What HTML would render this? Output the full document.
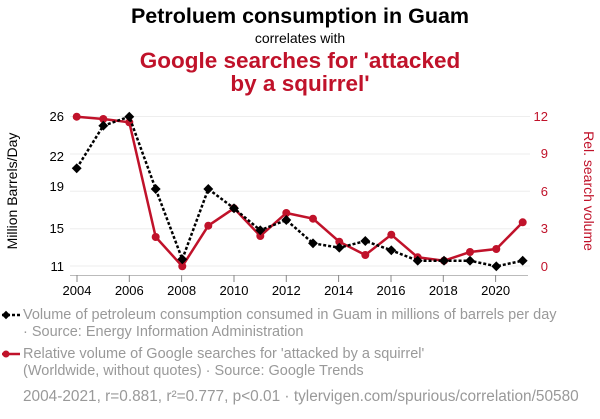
<!DOCTYPE html>
<html><head><style>
body{margin:0;background:#fff;font-family:"Liberation Sans",sans-serif;}
svg text{font-family:"Liberation Sans",sans-serif;}
</style></head><body>
<svg width="600" height="414" xmlns="http://www.w3.org/2000/svg">
<text x="300" y="23" text-anchor="middle" font-size="21.5" font-weight="bold" fill="#000">Petroluem consumption in Guam</text>
<text x="300" y="43" text-anchor="middle" font-size="14" fill="#000">correlates with</text>
<text x="300" y="68" text-anchor="middle" font-size="22.5" font-weight="bold" fill="#c0122a">Google searches for 'attacked</text>
<text x="300" y="91" text-anchor="middle" font-size="22.5" font-weight="bold" fill="#c0122a">by a squirrel'</text>
<g stroke="#eeeeee" stroke-width="1">
<line x1="70" x2="530" y1="116.5" y2="116.5"/><line x1="70" x2="530" y1="154" y2="154"/>
<line x1="70" x2="530" y1="191.3" y2="191.3"/><line x1="70" x2="530" y1="228.7" y2="228.7"/>
<line x1="70" x2="530" y1="266" y2="266"/></g>
<line x1="70" x2="528" y1="275.5" y2="275.5" stroke="#bbb"/>
<g stroke="#888"><line x1="77" x2="77" y1="275" y2="282"/><line x1="129.3" x2="129.3" y1="275" y2="282"/><line x1="181.6" x2="181.6" y1="275" y2="282"/><line x1="234" x2="234" y1="275" y2="282"/><line x1="286.3" x2="286.3" y1="275" y2="282"/><line x1="338.6" x2="338.6" y1="275" y2="282"/><line x1="391" x2="391" y1="275" y2="282"/><line x1="443.3" x2="443.3" y1="275" y2="282"/><line x1="495.6" x2="495.6" y1="275" y2="282"/></g>
<g font-size="13" fill="#000" text-anchor="middle">
<text x="77" y="295">2004</text><text x="129.3" y="295">2006</text><text x="181.6" y="295">2008</text><text x="234" y="295">2010</text><text x="286.3" y="295">2012</text><text x="338.6" y="295">2014</text><text x="391" y="295">2016</text><text x="443.3" y="295">2018</text><text x="495.6" y="295">2020</text></g>
<g font-size="13" fill="#000" text-anchor="end">
<text x="64" y="121">26</text><text x="64" y="161">22</text><text x="64" y="191">19</text><text x="64" y="233">15</text><text x="64" y="271">11</text></g>
<g font-size="13" fill="#c0122a" text-anchor="end">
<text x="548" y="121">12</text><text x="548" y="158">9</text><text x="548" y="196">6</text><text x="548" y="233">3</text><text x="548" y="271">0</text></g>
<text transform="translate(17,191) rotate(-90)" text-anchor="middle" font-size="14" fill="#000">Million Barrels/Day</text>
<text transform="translate(584,191) rotate(90)" text-anchor="middle" font-size="14" fill="#c0122a">Rel. search volume</text>
<polyline fill="none" stroke="#c0122a" stroke-width="2.5" points="76.7,116.7 103.3,119 129.3,122.3 155.7,237 182.3,266.3 208.3,225.7 234,208.3 260.3,236 286.3,213 313,218.7 339.3,241.7 365.3,255 391.3,234.7 417.7,257.3 444,260.7 470,252 496.3,249 522.7,222.3"/>
<g fill="#c0122a"><circle cx="76.7" cy="116.7" r="4"/><circle cx="103.3" cy="119" r="4"/><circle cx="129.3" cy="122.3" r="4"/><circle cx="155.7" cy="237" r="4"/><circle cx="182.3" cy="266.3" r="4"/><circle cx="208.3" cy="225.7" r="4"/><circle cx="234" cy="208.3" r="4"/><circle cx="260.3" cy="236" r="4"/><circle cx="286.3" cy="213" r="4"/><circle cx="313" cy="218.7" r="4"/><circle cx="339.3" cy="241.7" r="4"/><circle cx="365.3" cy="255" r="4"/><circle cx="391.3" cy="234.7" r="4"/><circle cx="417.7" cy="257.3" r="4"/><circle cx="444" cy="260.7" r="4"/><circle cx="470" cy="252" r="4"/><circle cx="496.3" cy="249" r="4"/><circle cx="522.7" cy="222.3" r="4"/></g>
<polyline fill="none" stroke="#000" stroke-width="2.5" stroke-dasharray="3,2" points="76.7,168.3 103.3,125.7 129.3,116.7 155.7,189 182.3,259.3 208.3,189 234,208.3 260.3,230.3 286.3,220 313,243.3 339.3,247.7 365.3,241 391.3,250.3 417.7,260.7 444,260.7 470,260.7 496.3,266.3 522.7,260.7"/>
<g fill="#000">
<rect x="-3.5" y="-3.5" width="7" height="7" transform="translate(76.7,168.3) rotate(45)"/><rect x="-3.5" y="-3.5" width="7" height="7" transform="translate(103.3,125.7) rotate(45)"/><rect x="-3.5" y="-3.5" width="7" height="7" transform="translate(129.3,116.7) rotate(45)"/><rect x="-3.5" y="-3.5" width="7" height="7" transform="translate(155.7,189) rotate(45)"/><rect x="-3.5" y="-3.5" width="7" height="7" transform="translate(182.3,259.3) rotate(45)"/><rect x="-3.5" y="-3.5" width="7" height="7" transform="translate(208.3,189) rotate(45)"/><rect x="-3.5" y="-3.5" width="7" height="7" transform="translate(234,208.3) rotate(45)"/><rect x="-3.5" y="-3.5" width="7" height="7" transform="translate(260.3,230.3) rotate(45)"/><rect x="-3.5" y="-3.5" width="7" height="7" transform="translate(286.3,220) rotate(45)"/><rect x="-3.5" y="-3.5" width="7" height="7" transform="translate(313,243.3) rotate(45)"/><rect x="-3.5" y="-3.5" width="7" height="7" transform="translate(339.3,247.7) rotate(45)"/><rect x="-3.5" y="-3.5" width="7" height="7" transform="translate(365.3,241) rotate(45)"/><rect x="-3.5" y="-3.5" width="7" height="7" transform="translate(391.3,250.3) rotate(45)"/><rect x="-3.5" y="-3.5" width="7" height="7" transform="translate(417.7,260.7) rotate(45)"/><rect x="-3.5" y="-3.5" width="7" height="7" transform="translate(444,260.7) rotate(45)"/><rect x="-3.5" y="-3.5" width="7" height="7" transform="translate(470,260.7) rotate(45)"/><rect x="-3.5" y="-3.5" width="7" height="7" transform="translate(496.3,266.3) rotate(45)"/><rect x="-3.5" y="-3.5" width="7" height="7" transform="translate(522.7,260.7) rotate(45)"/></g>
<line x1="2" x2="20" y1="315" y2="315" stroke="#000" stroke-width="2.5" stroke-dasharray="3,2"/>
<rect x="-3" y="-3" width="6" height="6" transform="translate(6,315) rotate(45)"/>
<text x="23" y="319" font-size="14.5" fill="#999">Volume of petroleum consumption consumed in Guam in millions of barrels per day</text>
<text x="23" y="336" font-size="14.5" fill="#999">· Source: Energy Information Administration</text>
<line x1="2" x2="20" y1="354" y2="354" stroke="#c0122a" stroke-width="2.5"/>
<circle cx="6" cy="354" r="3.5" fill="#c0122a"/>
<text x="23" y="358" font-size="14.5" fill="#999">Relative volume of Google searches for 'attacked by a squirrel'</text>
<text x="23" y="375" font-size="14.5" fill="#999">(Worldwide, without quotes) · Source: Google Trends</text>
<text x="23" y="401" font-size="15.4" fill="#999">2004-2021, r=0.881, r²=0.777, p&lt;0.01 · tylervigen.com/spurious/correlation/50580</text>
</svg>
</body></html>
